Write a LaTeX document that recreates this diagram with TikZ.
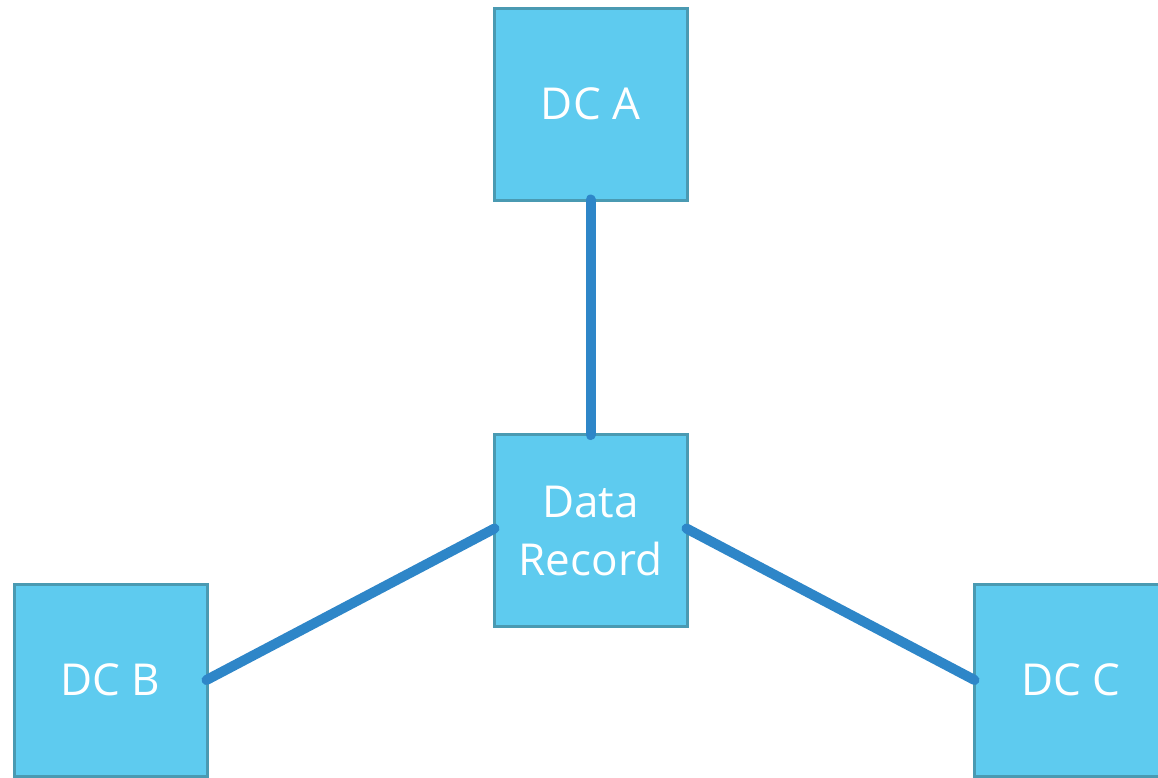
\documentclass[tikz,border=0pt]{standalone}
\usepackage{fontspec}
\setmainfont{Open Sans}
\definecolor{boxfill}{HTML}{5ECBEF}
\definecolor{boxline}{HTML}{4A9AB2}
\definecolor{conn}{HTML}{2E86C8}
\begin{document}
\begin{tikzpicture}[x=1pt,y=-1pt,
  dcbox/.style={draw=boxline, fill=boxfill, line width=3pt, minimum width=193pt, minimum height=192pt, inner sep=0pt, text=white, font=\fontsize{44}{58}\selectfont, align=center},
  link/.style={draw=conn, line width=10pt, line cap=round}]
\clip (0,0) rectangle (1158,777);
\node[dcbox] (a) at (590.5,104) {DC A};
\node[dcbox] (d) at (590.5,530.5) {Data\\Record};
\node[dcbox] (b) at (110.5,680) {DC B};
\node[dcbox] (c) at (1070.5,680) {DC C};
\coordinate (aS) at ([yshift=2pt]a.south);
\coordinate (dN) at ([yshift=-2pt]d.north);
\draw[link] (aS) -- (dN);
\draw[link] ([shift={(2pt,2pt)}]d.west) -- ([xshift=-2pt]b.east);
\draw[link] ([shift={(-2pt,2pt)}]d.east) -- ([xshift=2pt]c.west);
\end{tikzpicture}
\end{document}
